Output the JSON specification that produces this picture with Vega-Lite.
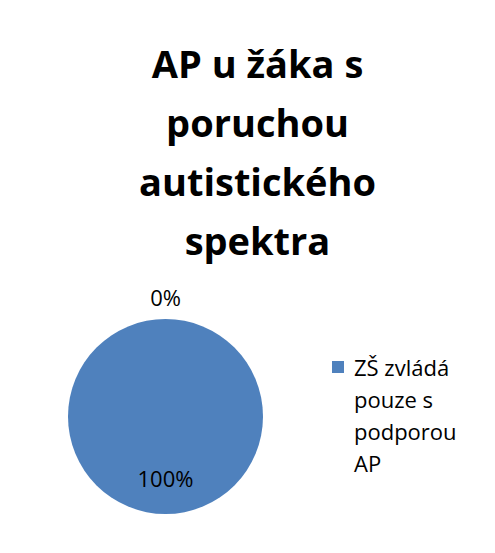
{
  "$schema": "https://vega.github.io/schema/vega-lite/v6.json",
  "width": 195,
  "height": 195,
  "padding": {"left": 68, "top": 47, "right": 0, "bottom": 0},
  "autosize": {"type": "pad"},
  "background": "white",
  "title": {
    "text": ["AP u žáka s", "poruchou", "autistického", "spektra"],
    "font": "Open Sans",
    "fontSize": 38,
    "fontWeight": "bold",
    "lineHeight": 59,
    "color": "#000000",
    "anchor": "middle",
    "frame": "group",
    "dx": 92,
    "offset": 25
  },
  "data": {
    "values": [
      {"kategorie": "ZŠ zvládá pouze s podporou AP", "podil": 1},
      {"kategorie": "ostatní", "podil": 0}
    ]
  },
  "config": {"view": {"stroke": null}},
  "layer": [
    {
      "transform": [{"filter": "datum.podil > 0"}],
      "mark": {"type": "arc"},
      "encoding": {
        "theta": {"field": "podil", "type": "quantitative", "stack": true},
        "color": {
          "field": "kategorie",
          "type": "nominal",
          "scale": {"range": ["#4F81BD"]},
          "legend": {
            "title": null,
            "orient": "right",
            "offset": 27,
            "padding": 37,
            "symbolType": "square",
            "symbolSize": 144,
            "symbolStrokeWidth": 0,
            "labelFont": "Open Sans",
            "labelFontSize": 22,
            "labelColor": "#000000",
            "labelOffset": 5,
            "labelBaseline": "top",
            "labelLimit": 0,
            "labelExpr": "split(replace(datum.label, regexp(' (?=pouze|podporou|AP)', 'g'), '|'), '|')",
            "encode": {"labels": {"update": {"lineHeight": {"value": 32}, "dy": {"value": -8}}}}
          }
        }
      }
    },
    {
      "transform": [{"filter": "datum.podil > 0"}],
      "mark": {"type": "text", "radius": 63, "font": "Open Sans", "fontSize": 22, "color": "#000000"},
      "encoding": {
        "theta": {"field": "podil", "type": "quantitative", "stack": true},
        "text": {"field": "podil", "type": "quantitative", "format": ".0%"}
      }
    },
    {
      "transform": [{"filter": "datum.podil == 0"}],
      "mark": {"type": "text", "radius": 118, "font": "Open Sans", "fontSize": 22, "color": "#000000"},
      "encoding": {
        "theta": {"field": "podil", "type": "quantitative", "stack": true},
        "text": {"field": "podil", "type": "quantitative", "format": ".0%"}
      }
    }
  ]
}
